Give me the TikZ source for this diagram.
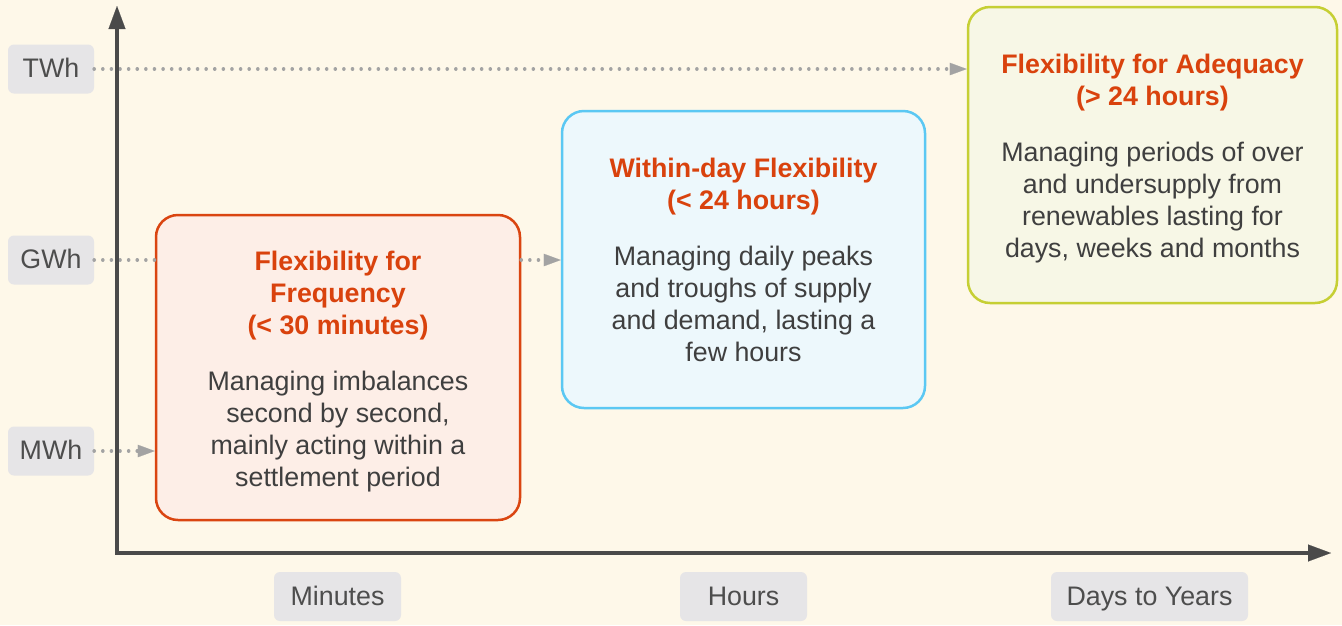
\documentclass[tikz,border=0pt]{standalone}
\usepackage{fontspec}
\setmainfont{Liberation Sans}
\usetikzlibrary{arrows.meta}
\definecolor{bg}{HTML}{FEF8E9}
\definecolor{axisc}{HTML}{4A4A4A}
\definecolor{lblfill}{HTML}{E6E5E7}
\definecolor{lbltext}{HTML}{4D4D4D}
\definecolor{dotc}{HTML}{A3A3A3}
\definecolor{titlec}{HTML}{D9420D}
\definecolor{bodyc}{HTML}{3F3F3F}
\definecolor{freqfill}{HTML}{FDEEE7}
\definecolor{freqdraw}{HTML}{DA4511}
\definecolor{withinfill}{HTML}{EDF8FC}
\definecolor{withindraw}{HTML}{5BC8F3}
\definecolor{adeqfill}{HTML}{F7F7E6}
\definecolor{adeqdraw}{HTML}{C6CF34}
\tikzset{
  lbl/.style={fill=lblfill, rounded corners=6pt, minimum height=49pt, inner sep=0pt,
    text height=19.4pt, text depth=2.4pt,
    text=lbltext, font=\fontsize{26.8}{32}\selectfont},
  flexbox/.style={line width=2.5pt, rounded corners=22pt, inner sep=0pt},
  boxtext/.style={inner sep=0pt, align=center, text=bodyc, font=\fontsize{26.8}{32}\selectfont},
  dotline/.style={dotc, line width=3.6pt, line cap=round, dash pattern=on 0.01pt off 8.6pt},
  dottip/.style={-{Triangle[length=17pt,width=12.5pt,line width=0.1pt,fill=dotc]}},
  axisline/.style={axisc, line width=3.6pt,
    {Triangle[length=23pt,width=17pt,line width=0.1pt]}-{Triangle[length=23pt,width=17pt,line width=0.1pt]}},
}
\newcommand{\ttl}[1]{{\color{titlec}\bfseries #1}}
\begin{document}
\begin{tikzpicture}[x=1pt,y=-1pt]
\path[fill=bg,use as bounding box] (0,0) rectangle (1342,625);

% boxes
\node[flexbox, draw=freqdraw, fill=freqfill, minimum width=364pt, minimum height=305pt] (freq) at (338,367.5) {};
\node[boxtext] (freqtext) at ([yshift=-4pt]freq.center)
  {\ttl{Flexibility for}\\ \ttl{Frequency}\\ \ttl{(< 30 minutes)}\\[24pt]
   Managing imbalances\\ second by second,\\ mainly acting within a\\ settlement period};
\node[flexbox, draw=withindraw, fill=withinfill, minimum width=363pt, minimum height=297pt] (within) at (743.5,259.5) {};
\node[boxtext] (withintext) at (within.center)
  {\ttl{Within-day Flexibility}\\ \ttl{(< 24 hours)}\\[24pt]
   Managing daily peaks\\ and troughs of supply\\ and demand, lasting a\\ few hours};
\node[flexbox, draw=adeqdraw, fill=adeqfill, minimum width=369pt, minimum height=296pt] (adeq) at (1152.5,155) {};
\node[boxtext] (adeqtext) at ([yshift=-4pt]adeq.center)
  {\ttl{Flexibility for Adequacy}\\ \ttl{(> 24 hours)}\\[24pt]
   Managing periods of over\\ and undersupply from\\ renewables lasting for\\ days, weeks and months};

% labels
\node[lbl, minimum width=86pt] (twh) at (51,69) {TWh};
\node[lbl, minimum width=86pt] (gwh) at (51,260) {GWh};
\node[lbl, minimum width=86pt] (mwh) at (51,451) {MWh};
\node[lbl, minimum width=127pt] (minutes) at (337.5,596.5) {Minutes};
\node[lbl, minimum width=127pt] (hours) at (743.5,596.5) {Hours};
\node[lbl, minimum width=197pt] (days) at (1149.5,596.5) {Days to Years};

% dotted connectors
\draw[dotline, dottip] (twh.east) -- (twh.east -| adeq.west);
\draw[dotline] (gwh.east) -- (gwh.east -| freq.west);
\draw[dotline, dottip] (gwh.east -| freq.east) -- (gwh.east -| within.west);
\draw[dotline, dottip] (mwh.east) -- (mwh.east -| freq.west);

% axes
\coordinate (ytip) at (117,6);
\coordinate (origin) at (117,553);
\coordinate (xtip) at (1331,553);
\draw[axisline] (ytip) -- (origin) -- (xtip);
\end{tikzpicture}
\end{document}
